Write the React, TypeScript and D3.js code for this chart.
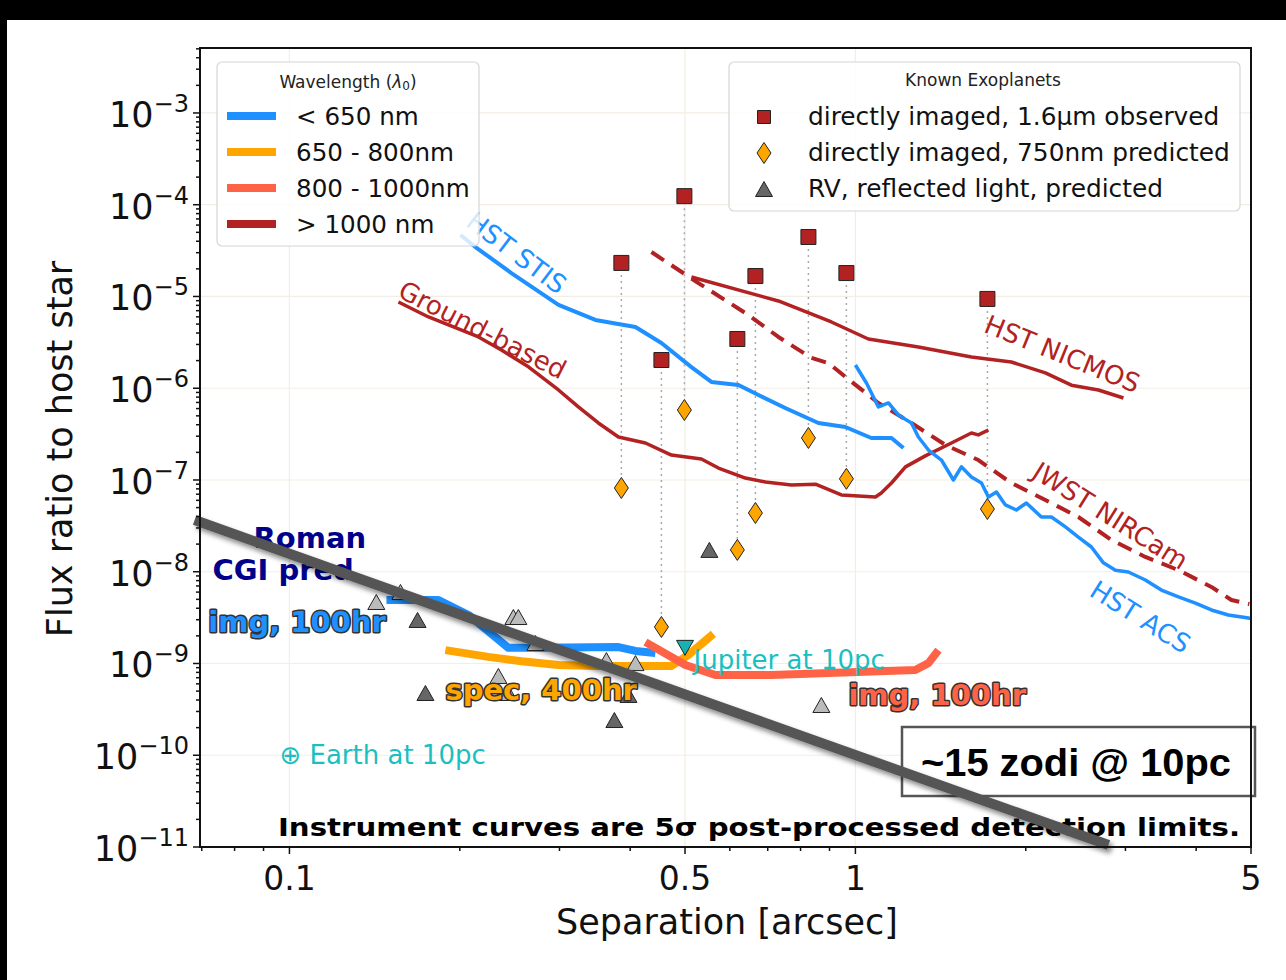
import React from "react";
import * as d3 from "d3";

// ---------- data (separation in arcsec, flux ratio) ----------
const sepSTIS = [0.2005, 0.2131, 0.2467, 0.2988, 0.3472, 0.4087, 0.4542, 0.5132, 0.5566, 0.6214, 0.674, 0.7517, 0.8602, 0.9601, 1.067, 1.158, 1.216];
const conSTIS = [4.68e-5, 3.46e-5, 1.8e-5, 8.08e-6, 5.55e-6, 4.65e-6, 3.11e-6, 1.7e-6, 1.17e-6, 1.085e-6, 8.44e-7, 6.09e-7, 4.18e-7, 3.78e-7, 2.87e-7, 2.87e-7, 2.23e-7];

const sepGround = [0.1558, 0.1761, 0.2158, 0.2369, 0.2644, 0.2988, 0.324, 0.3514, 0.3814, 0.4256, 0.4731, 0.5344, 0.5728, 0.6392, 0.6935, 0.7709, 0.85, 0.9446, 1.085, 1.111, 1.158, 1.226, 1.329, 1.478, 1.603, 1.649, 1.718];
const conGround = [8.71e-6, 5.98e-6, 3.62e-6, 2.61e-6, 1.71e-6, 9.57e-7, 6.25e-7, 4.18e-7, 2.94e-7, 2.53e-7, 1.87e-7, 1.69e-7, 1.35e-7, 1.05e-7, 9.5e-8, 8.8e-8, 9.0e-8, 6.87e-8, 6.53e-8, 7.2e-8, 9.27e-8, 1.39e-7, 1.83e-7, 2.53e-7, 3.25e-7, 3.1e-7, 3.51e-7];

const sepNICMOS = [0.5132, 0.7311, 0.907, 1.054, 1.292, 1.603, 1.886, 2.166, 2.408, 2.688, 2.976];
const conNICMOS = [1.63e-5, 8.93e-6, 5.27e-6, 3.44e-6, 2.82e-6, 2.19e-6, 1.93e-6, 1.47e-6, 1.08e-6, 9.57e-7, 7.83e-7];

const sepNIRCam = [0.4361, 0.528, 0.647, 0.7311, 0.8362, 0.896, 0.9601, 1.098, 1.256, 1.442, 1.649, 1.886, 2.166, 2.477, 2.834, 3.253, 3.722, 4.256, 4.617, 4.967];
const conNIRCam = [3.05e-5, 1.4e-5, 6.29e-6, 3.62e-6, 2.14e-6, 1.88e-6, 1.33e-6, 6.91e-7, 4.18e-7, 2.41e-7, 1.65e-7, 9.27e-8, 6.05e-8, 3.95e-8, 2.22e-8, 1.45e-8, 1.04e-8, 6.83e-9, 4.92e-9, 4.45e-9];

const sepACS = [1.0, 1.046, 1.098, 1.144, 1.191, 1.256, 1.292, 1.346, 1.419, 1.49, 1.539, 1.603, 1.67, 1.718, 1.775, 1.841, 1.925, 2.005, 2.131, 2.22, 2.35, 2.477, 2.612, 2.743, 2.88, 3.036, 3.253, 3.472, 3.722, 3.988, 4.256, 4.56, 4.947, 5.0];
const conACS = [1.79e-6, 1.14e-6, 6.25e-7, 6.91e-7, 5.11e-7, 4.18e-7, 2.94e-7, 2.12e-7, 1.65e-7, 1.0e-7, 1.39e-7, 1.08e-7, 9.27e-8, 6.53e-8, 7.4e-8, 5.35e-8, 4.71e-8, 5.61e-8, 3.95e-8, 3.95e-8, 3.08e-8, 2.39e-8, 1.86e-8, 1.25e-8, 1.04e-8, 9.93e-9, 8.13e-9, 6.32e-9, 5.31e-9, 4.56e-9, 3.83e-9, 3.38e-9, 3.13e-9, 3.1e-9];

const sepCgiImgBlue = [0.1484, 0.1834, 0.2072, 0.2437, 0.2754, 0.3814, 0.4087, 0.4432];
const conCgiImgBlue = [4.92e-9, 4.92e-9, 3.38e-9, 1.48e-9, 1.48e-9, 1.51e-9, 1.37e-9, 1.3e-9];
const sepCgiSpec = [0.1886, 0.2247, 0.257, 0.2988, 0.3514, 0.4731, 0.507, 0.5612];
const conCgiSpec = [1.4e-9, 1.18e-9, 1.06e-9, 9.63e-10, 9.39e-10, 9.39e-10, 1.24e-9, 2.1e-9];
const sepCgiImgRed = [0.4256, 0.5008, 0.5659, 0.7105, 1.276, 1.346, 1.402];
const conCgiImgRed = [1.71e-9, 9.63e-10, 7.5e-10, 7.5e-10, 8.5e-10, 1.01e-9, 1.4e-9];

const sepDirect = [0.3859, 0.4987, 0.4542, 0.6186, 0.6658, 0.826, 0.964, 1.711];
const conObserved = [2.32e-5, 1.24e-4, 2.03e-6, 3.44e-6, 1.67e-5, 4.45e-5, 1.8e-5, 9.4e-6];
const conPredicted = [8.18e-8, 5.79e-7, 2.5e-9, 1.73e-8, 4.37e-8, 2.87e-7, 1.03e-7, 4.83e-8];

const sepRV = [0.1424, 0.1571, 0.1684, 0.1739, 0.234, 0.2437, 0.2487, 0.2538, 0.272, 0.3631, 0.4087, 0.3972, 0.3751, 0.552, 0.8707];
const conRV = [4.68e-9, 6.02e-9, 2.98e-9, 4.77e-10, 7.31e-10, 4.77e-10, 3.21e-9, 3.21e-9, 1.67e-9, 1.09e-9, 1.01e-9, 4.54e-10, 2.42e-10, 1.73e-8, 3.53e-10];
const darkRV = [false, false, true, true, false, false, false, false, false, false, false, true, true, true, false];

const jupiter = { sep: 0.5, con: 1.48e-9 };
const earth = { sep: 0.1, con: 1e-10 };
const zodiSep = [0.068, 2.8];
const zodiCon = [3.66e-8, 1.05e-11];

const xTicks = [0.1, 0.5, 1, 5];
const xTickLabels = ["0.1", "0.5", "1", "5"];
const yExponents = [-3, -4, -5, -6, -7, -8, -9, -10, -11];

const waveLegend = [
  { label: "< 650 nm", color: "#1E90FF" },
  { label: "650 - 800nm", color: "#FFA500" },
  { label: "800 - 1000nm", color: "#FF6347" },
  { label: "> 1000 nm", color: "#B22222" },
];
const planetLegend = [
  "directly imaged, 1.6μm observed",
  "directly imaged, 750nm predicted",
  "RV, reflected light, predicted",
];

// ---------- layout ----------
const W = 1286, H = 980;
const L = 200, R = 1251, T = 48, B = 847;
const x = d3.scaleLog().domain([0.0695, 5]).range([L, R]);
const y = d3.scaleLog().domain([1e-11, Math.pow(10, -2.292)]).range([B, T]);

const BLUE = "#1E90FF", ORANGE = "#FFA500", TOMATO = "#FF6347", RED = "#B22222", TEAL = "#1BBFBF";
const FONT = "DejaVu Sans, sans-serif";

const line = d3.line<[number, number]>().x(d => x(d[0])).y(d => y(d[1]));
const path = (s: number[], c: number[]) => line(s.map((v, i) => [v, c[i]] as [number, number])) || "";

const sq = (cx: number, cy: number, s = 7.5) => `M${cx - s},${cy - s}h${2 * s}v${2 * s}h${-2 * s}Z`;
const dia = (cx: number, cy: number) => `M${cx},${cy - 10.5}L${cx + 7},${cy}L${cx},${cy + 10.5}L${cx - 7},${cy}Z`;
const tri = (cx: number, cy: number, down = false) =>
  down
    ? `M${cx - 8.5},${cy - 7.5}L${cx + 8.5},${cy - 7.5}L${cx},${cy + 7.5}Z`
    : `M${cx - 8.5},${cy + 7.5}L${cx + 8.5},${cy + 7.5}L${cx},${cy - 7.5}Z`;

function minorX(): number[] {
  const out: number[] = [];
  for (const e of [-2, -1, 0]) for (let k = 2; k <= 9; k++) {
    const v = k * Math.pow(10, e);
    if (v >= 0.0695 && v <= 5 && !(e === -1 && k === 5) && !(e === 0 && k === 5)) out.push(v);
  }
  return out;
}
function minorY(): number[] {
  const out: number[] = [];
  for (let e = -11; e <= -3; e++) for (let k = 2; k <= 9; k++) {
    const v = k * Math.pow(10, e);
    if (v <= Math.pow(10, -2.292)) out.push(v);
  }
  return out;
}

const curveLabel = (text: string, sep: number, con: number, rot: number, color: string) => (
  <text
    key={text}
    x={x(sep)}
    y={y(con)}
    transform={`rotate(${rot},${x(sep)},${y(con)})`}
    textAnchor="middle"
    dominantBaseline="central"
    fontFamily={FONT}
    fontSize={26}
    fill={color}
  >
    {text}
  </text>
);

const boldLabel = (text: string, sep: number, con: number, color: string, outline: boolean) => (
  <text
    key={text + sep}
    x={x(sep)}
    y={y(con)}
    dominantBaseline="central"
    fontFamily={FONT}
    fontWeight="bold"
    fontSize={29}
    fill={color}
    stroke={outline ? "#333" : "none"}
    strokeWidth={outline ? 3 : 0}
    strokeLinejoin="round"
    paintOrder="stroke"
  >
    {text}
  </text>
);

export default function App() {
  React.useEffect(() => {
    document.body.style.margin = "0";
  }, []);
  const gridColor = "#f3eee4";
  return (
    <svg width={W} height={H} style={{ position: "absolute", left: 0, top: 0, background: "#fff" }}>
      <defs>
        <clipPath id="plotclip">
          <rect x={L} y={T} width={R - L} height={B - T} />
        </clipPath>
        <filter id="shadow" x="-10%" y="-50%" width="120%" height="200%">
          <feDropShadow dx="3" dy="4" stdDeviation="2.5" floodColor="#000" floodOpacity="0.45" />
        </filter>
      </defs>
      <rect x={0} y={0} width={W} height={H} fill="#fff" />
      <rect x={0} y={0} width={W} height={20} fill="#000" />
      <rect x={0} y={0} width={7} height={H} fill="#000" />

      {/* grid */}
      {xTicks.map(v => (
        <line key={"gx" + v} x1={x(v)} x2={x(v)} y1={T} y2={B} stroke={gridColor} strokeWidth={1.2} />
      ))}
      {yExponents.map(e => (
        <line key={"gy" + e} x1={L} x2={R} y1={y(Math.pow(10, e))} y2={y(Math.pow(10, e))} stroke={gridColor} strokeWidth={1.2} />
      ))}

      {/* dotted connectors */}
      <g stroke="#aaa" strokeWidth={1.5} strokeDasharray="2,4">
        {sepDirect.map((s, i) => (
          <line key={"dc" + i} x1={x(s)} x2={x(s)} y1={y(conObserved[i])} y2={y(conPredicted[i])} />
        ))}
      </g>

      {/* instrument curves */}
      <g clipPath="url(#plotclip)" fill="none" strokeLinejoin="round">
        <path d={path(sepSTIS, conSTIS)} stroke={BLUE} strokeWidth={4} />
        <path d={path(sepGround, conGround)} stroke={RED} strokeWidth={3.5} />
        <path d={path(sepNICMOS, conNICMOS)} stroke={RED} strokeWidth={3.5} />
        <path d={path(sepNIRCam, conNIRCam)} stroke={RED} strokeWidth={4} strokeDasharray="15,9" />
        <path d={path(sepACS, conACS)} stroke={BLUE} strokeWidth={3.5} />
        <path d={path(sepCgiImgBlue, conCgiImgBlue)} stroke={BLUE} strokeWidth={8} />
        <path d={path(sepCgiSpec, conCgiSpec)} stroke={ORANGE} strokeWidth={8} />
        <path d={path(sepCgiImgRed, conCgiImgRed)} stroke={TOMATO} strokeWidth={8} />
      </g>

      {/* markers */}
      <g stroke="#222" strokeWidth={1}>
        {sepRV.map((s, i) => (
          <path key={"rv" + i} d={tri(x(s), y(conRV[i]))} fill={darkRV[i] ? "#666" : "#bbb"} />
        ))}
        {sepDirect.map((s, i) => (
          <path key={"sq" + i} d={sq(x(s), y(conObserved[i]))} fill={RED} />
        ))}
        {sepDirect.map((s, i) => (
          <path key={"di" + i} d={dia(x(s), y(conPredicted[i]))} fill={ORANGE} />
        ))}
        <path d={tri(x(jupiter.sep), y(jupiter.con), true)} fill="#17b3b3" />
      </g>

      {/* curve labels */}
      {curveLabel("HST STIS", 0.2518, 2.98e-5, 37, BLUE)}
      {curveLabel("Ground-based", 0.2193, 4.31e-6, 27, RED)}
      {curveLabel("HST NICMOS", 2.321, 2.36e-6, 22, RED)}
      {curveLabel("JWST NIRCam", 2.822, 4.06e-8, 32, RED)}
      {curveLabel("HST ACS", 3.188, 3.21e-9, 32, BLUE)}

      <text x={x(0.5176)} y={y(1.09e-9)} dominantBaseline="central" fontFamily={FONT} fontSize={26} fill={TEAL}>
        Jupiter at 10pc
      </text>
      <text x={x(earth.sep) - 10} y={y(earth.con)} dominantBaseline="central" fontFamily={FONT} fontSize={26} fill={TEAL}>
        ⊕ Earth at 10pc
      </text>

      {boldLabel("Roman", 0.0864, 2.33e-8, "#00008B", false)}
      {boldLabel("CGI pred.", 0.0731, 1.04e-8, "#00008B", false)}
      {boldLabel("img, 100hr", 0.0719, 2.83e-9, BLUE, true)}
      {boldLabel("spec, 400hr", 0.1886, 5.14e-10, ORANGE, true)}
      {boldLabel("img, 100hr", 0.972, 4.54e-10, TOMATO, true)}

      <text x={278} y={827} dominantBaseline="central" fontFamily={FONT} fontWeight="bold" fontSize={25} textLength={962} lengthAdjust="spacingAndGlyphs" fill="#000">
        Instrument curves are 5σ post-processed detection limits.
      </text>

      {/* legends */}
      <g>
        <rect x={217} y={62} width={262} height={184} rx={5} fill="#fff" fillOpacity={0.8} stroke="#d6d6d6" strokeWidth={1.2} />
        <text x={348} y={82} textAnchor="middle" dominantBaseline="central" fontFamily={FONT} fontSize={17} fill="#222">
          Wavelength (<tspan fontStyle="italic">λ</tspan><tspan fontSize={12} dy={4}>0</tspan><tspan dy={-4}>)</tspan>
        </text>
        {waveLegend.map((d, i) => (
          <g key={d.label}>
            <line x1={227} x2={276} y1={116 + i * 36} y2={116 + i * 36} stroke={d.color} strokeWidth={8} />
            <text x={296} y={116 + i * 36} dominantBaseline="central" fontFamily={FONT} fontSize={24.6} fill="#111">
              {d.label}
            </text>
          </g>
        ))}
      </g>
      <g>
        <rect x={729} y={62} width={511} height={149} rx={5} fill="#fff" fillOpacity={0.8} stroke="#d6d6d6" strokeWidth={1.2} />
        <text x={983} y={80} textAnchor="middle" dominantBaseline="central" fontFamily={FONT} fontSize={17} fill="#222">
          Known Exoplanets
        </text>
        <g stroke="#222" strokeWidth={1}>
          <path d={sq(764, 117, 6.5)} fill={RED} />
          <path d={dia(764, 153)} fill={ORANGE} />
          <path d={tri(764, 189)} fill="#666" />
        </g>
        {planetLegend.map((t, i) => (
          <text key={t} x={808} y={116 + i * 36} dominantBaseline="central" fontFamily={FONT} fontSize={24.8} fill="#111">
            {t}
          </text>
        ))}
      </g>

      {/* zodi box */}
      <rect x={902} y={727} width={353} height={69} fill="#fff" stroke="#555" strokeWidth={2.5} />
      <text x={1076} y={763} textAnchor="middle" dominantBaseline="central" fontFamily="Liberation Sans, Arial, sans-serif" fontWeight="bold" fontSize={38} textLength={310} lengthAdjust="spacingAndGlyphs" fill="#000">
        ~15 zodi @ 10pc
      </text>

      {/* zodi line */}
      <path
        d={path(zodiSep, zodiCon)}
        stroke="#555"
        strokeWidth={10}
        fill="none"
        filter="url(#shadow)"
      />

      {/* axes frame */}
      <rect x={L} y={T} width={R - L} height={B - T} fill="none" stroke="#111" strokeWidth={2} />

      {/* ticks */}
      <g stroke="#111" strokeWidth={1.5}>
        {xTicks.map(v => (
          <line key={"xt" + v} x1={x(v)} x2={x(v)} y1={B} y2={B + 7} />
        ))}
        {minorX().map(v => (
          <line key={"xm" + v} x1={x(v)} x2={x(v)} y1={B} y2={B + 4} />
        ))}
        {yExponents.map(e => (
          <line key={"yt" + e} x1={L - 7} x2={L} y1={y(Math.pow(10, e))} y2={y(Math.pow(10, e))} />
        ))}
        {minorY().map(v => (
          <line key={"ym" + v} x1={L - 4} x2={L} y1={y(v)} y2={y(v)} />
        ))}
      </g>
      {xTicks.map((v, i) => (
        <text key={"xl" + v} x={x(v)} y={878} textAnchor="middle" dominantBaseline="central" fontFamily={FONT} fontSize={33} fill="#111">
          {xTickLabels[i]}
        </text>
      ))}
      {yExponents.map(e => (
        <text key={"yl" + e} x={189} y={y(Math.pow(10, e)) + 14} textAnchor="end" fontFamily={FONT} fontSize={35} fill="#111">
          10<tspan fontSize={24} dy={-15}>{"\u2212" + Math.abs(e)}</tspan>
        </text>
      ))}

      <text x={727} y={922} textAnchor="middle" dominantBaseline="central" fontFamily={FONT} fontSize={35} fill="#111">
        Separation [arcsec]
      </text>
      <text x={60} y={449} transform="rotate(-90,60,449)" textAnchor="middle" dominantBaseline="central" fontFamily={FONT} fontSize={35} fill="#111">
        Flux ratio to host star
      </text>
    </svg>
  );
}
